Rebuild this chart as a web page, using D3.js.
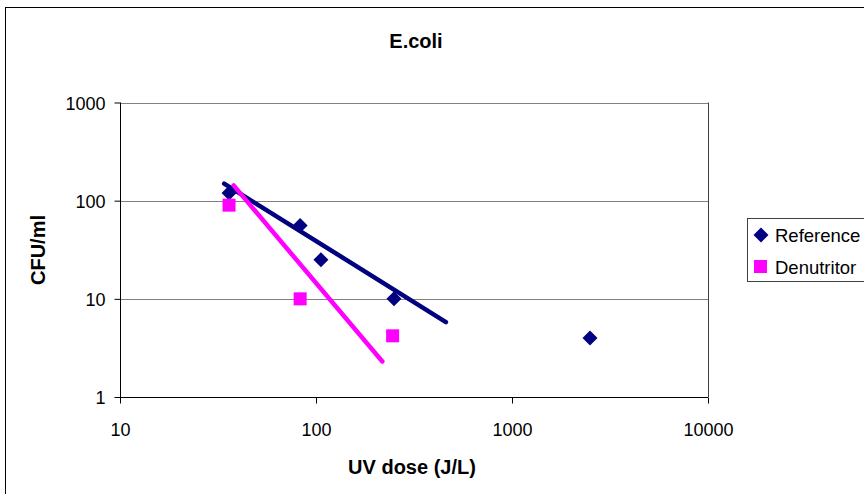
<!DOCTYPE html>
<html>
<head>
<meta charset="utf-8">
<script src="https://cdn.jsdelivr.net/npm/d3@7"></script>
<style>
  body { margin: 0; background: #fff; }
  svg { display: block; font-family: "Liberation Sans", Arial, sans-serif; }
</style>
</head>
<body>
<svg id="grafica" width="864" height="494"></svg>
<script>
// datos
var refDosis = [36, 83, 106, 250, 2500]
var refCfu = [120, 56, 25, 10, 4]
var denDosis = [36, 83, 246]
var denCfu = [90, 10, 4.2]
// lineas de tendencia (extremos)
var refTendDosis = [34, 460]
var refTendCfu = [149, 5.8]
var denTendDosis = [38, 218]
var denTendCfu = [143, 2.3]
var xTicks = [10, 100, 1000, 10000]
var yTicks = [1, 10, 100, 1000]

var colores = { ref: '#000080', den: '#FF00FF' }

var svg = d3.select('#grafica')

// marco exterior del grafico
svg.append('rect')
    .attr('x', 5.5).attr('y', 7.5)
    .attr('width', 900).attr('height', 600)
    .attr('fill', '#fff').attr('stroke', '#000').attr('stroke-width', 1)

var x = d3.scaleLog().domain([10, 10000]).range([120, 708])
var y = d3.scaleLog().domain([1, 1000]).range([397, 102.5])

// lineas de cuadricula
svg.append('g').selectAll('line')
    .data(yTicks.slice(1))
    .enter().append('line')
    .attr('x1', 120).attr('x2', 708)
    .attr('y1', function (d) { return Math.round(y(d)) + 0.5 })
    .attr('y2', function (d) { return Math.round(y(d)) + 0.5 })
    .attr('stroke', '#808080')

// borde derecho del area de trazado
svg.append('line')
    .attr('x1', 708.5).attr('x2', 708.5)
    .attr('y1', y(1000)).attr('y2', y(1))
    .attr('stroke', '#404040')

// ejes
var ejeX = svg.append('g')
    .attr('transform', 'translate(0,' + (Math.round(y(1)) + 0.5) + ')')
    .call(d3.axisBottom(x).tickValues(xTicks).tickSize(6).tickFormat(d3.format('d')))
var ejeY = svg.append('g')
    .attr('transform', 'translate(' + (Math.round(x(10)) + 0.5) + ',0)')
    .call(d3.axisLeft(y).tickValues(yTicks).tickSize(6).tickFormat(d3.format('d')))

ejeX.select('.domain').attr('stroke', '#000').attr('d', 'M120,0H708')
ejeY.select('.domain').attr('stroke', '#000').attr('d', 'M0,' + y(1000) + 'V' + y(1))
ejeX.selectAll('.tick text')
    .attr('font-size', 18).attr('font-family', '"Liberation Sans", Arial')
    .attr('fill', '#000').attr('y', 0).attr('dy', 38)
ejeY.selectAll('.tick text')
    .attr('font-size', 18).attr('font-family', '"Liberation Sans", Arial')
    .attr('fill', '#000').attr('x', -15).attr('dy', 6.5)
svg.selectAll('.tick line').attr('stroke', '#000')

// lineas de tendencia
var linea = d3.line()
    .x(function (d) { return x(d[0]) })
    .y(function (d) { return y(d[1]) })

svg.append('path')
    .datum(d3.zip(refTendDosis, refTendCfu))
    .attr('d', linea)
    .attr('fill', 'none').attr('stroke', colores.ref)
    .attr('stroke-width', 4.5).attr('stroke-linecap', 'round')

svg.append('path')
    .datum(d3.zip(denTendDosis, denTendCfu))
    .attr('d', linea)
    .attr('fill', 'none').attr('stroke', colores.den)
    .attr('stroke-width', 4.5).attr('stroke-linecap', 'round')

// puntos
var rombo = 'M0,-7.5L7.5,0L0,7.5L-7.5,0Z'
svg.append('g').selectAll('path')
    .data(d3.zip(refDosis, refCfu))
    .enter().append('path')
    .attr('d', rombo)
    .attr('transform', function (d) { return 'translate(' + x(d[0]) + ',' + y(d[1]) + ')' })
    .attr('fill', colores.ref)

svg.append('g').selectAll('rect')
    .data(d3.zip(denDosis, denCfu))
    .enter().append('rect')
    .attr('x', function (d) { return x(d[0]) - 6.5 })
    .attr('y', function (d) { return y(d[1]) - 6.5 })
    .attr('width', 13).attr('height', 13)
    .attr('fill', colores.den)

// titulos
svg.append('text')
    .attr('x', 416).attr('y', 48)
    .attr('text-anchor', 'middle')
    .attr('font-size', 20).attr('font-weight', 'bold')
    .text('E.coli')

svg.append('text')
    .attr('x', 412).attr('y', 474)
    .attr('text-anchor', 'middle')
    .attr('font-size', 20).attr('font-weight', 'bold')
    .text('UV dose (J/L)')

svg.append('text')
    .attr('transform', 'translate(45,250) rotate(-90)')
    .attr('text-anchor', 'middle')
    .attr('font-size', 20).attr('font-weight', 'bold')
    .text('CFU/ml')

// leyenda
var leyenda = svg.append('g')
leyenda.append('rect')
    .attr('x', 747.5).attr('y', 218.5)
    .attr('width', 200).attr('height', 63)
    .attr('fill', '#fff').attr('stroke', '#404040')

leyenda.append('path')
    .attr('d', rombo)
    .attr('transform', 'translate(761,235)')
    .attr('fill', colores.ref)
leyenda.append('rect')
    .attr('x', 754).attr('y', 260).attr('width', 13).attr('height', 13)
    .attr('fill', colores.den)

leyenda.append('text')
    .attr('x', 775).attr('y', 242)
    .attr('font-size', 18.5)
    .text('Reference')
leyenda.append('text')
    .attr('x', 775).attr('y', 274)
    .attr('font-size', 18.5)
    .text('Denutritor')
</script>
</body>
</html>
